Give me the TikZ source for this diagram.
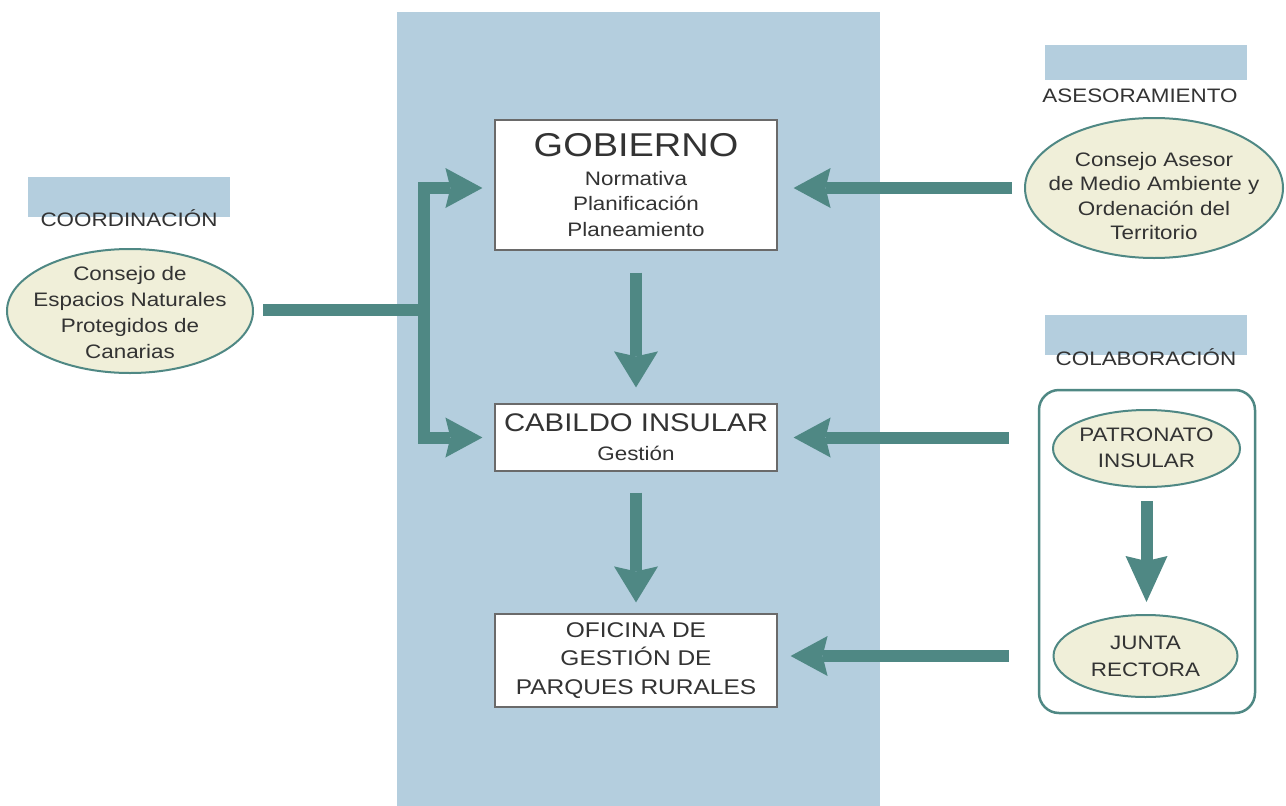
\documentclass[tikz,border=0pt]{standalone}
\usepackage{fontspec}
\setmainfont{Liberation Sans}[FakeStretch=1.15]
\usetikzlibrary{arrows.meta,shapes.geometric}
\definecolor{panelblue}{HTML}{B4CEDE}
\definecolor{tealc}{HTML}{4F8884}
\definecolor{cream}{HTML}{F0EFD9}
\definecolor{txt}{HTML}{333333}
\definecolor{boxline}{HTML}{6A6A6A}
\tikzset{
  panel/.style={fill=panelblue, inner sep=0pt},
  box/.style={draw=boxline, line width=1.2pt, fill=white, inner sep=0pt, align=center, text=txt,
    font=\fontsize{19.5}{25.3}\selectfont},
  ell/.style={ellipse, draw=tealc, line width=2pt, fill=cream, inner sep=0pt},
  elltext/.style={align=center, text=txt, inner sep=0pt, font=\fontsize{19.5}{26}\selectfont},
  tag/.style={fill=panelblue, inner sep=0pt},
  tagtext/.style={text=txt, inner sep=0pt, anchor=base, font=\fontsize{19.5}{23}\selectfont},
  group/.style={draw=tealc, line width=2.5pt, rounded corners=20pt, inner sep=0pt},
  conn/.style={draw=tealc, line width=12pt},
  arr/.style={conn, -{Stealth[length=37pt,width=40pt,inset=5pt,line width=0pt]}},
  arrwide/.style={conn, -{Stealth[length=36pt,width=44pt,inset=5pt,line width=0pt]}},
  arrlong/.style={conn, -{Stealth[length=46pt,width=42pt,inset=5pt,line width=0pt]}},
}
\begin{document}
\begin{tikzpicture}[x=1pt,y=-1pt]
\useasboundingbox (0,0) rectangle (1286,806);
\fill[white] (0,0) rectangle (1286,806);
% central panel
\node[panel, minimum width=483pt, minimum height=794pt] (panel) at (638.5,409) {};

% central boxes
\node[box, minimum width=282pt, minimum height=130pt] (gob) at (636,185)
  {{\fontsize{33}{36}\selectfont GOBIERNO}\\[3.7pt]Normativa\\Planificación\\Planeamiento};
\node[box, minimum width=282pt, minimum height=67pt] (cab) at (636,437.5)
  {{\fontsize{25.5}{28}\selectfont CABILDO INSULAR}\\[3.4pt]Gestión};
\node[box, minimum width=282pt, minimum height=93pt, font=\fontsize{21.3}{28.5}\selectfont] (ofi) at (636,660.5)
  {OFICINA DE\\GESTIÓN DE\\PARQUES RURALES};

% left: coordination
\node[tag, minimum width=202pt, minimum height=40pt] (coordbar) at (129,197) {};
\node[tagtext] (coord) at (129,226.7) {COORDINACIÓN};
\node[ell, minimum width=246pt, minimum height=124pt] (ces) at (130,311) {};
\node[elltext] (cestxt) at (130,312.4) {Consejo de\\Espacios Naturales\\Protegidos de\\Canarias};

% right top: advice
\node[tag, minimum width=202pt, minimum height=35pt] (asesbar) at (1146,62.5) {};
\node[tagtext] (ases) at (1140,102) {ASESORAMIENTO};
\node[ell, minimum width=258pt, minimum height=140pt] (cam) at (1154,188) {};
\node[elltext, font=\fontsize{19.5}{24.4}\selectfont] (camtxt) at (1154,196)
  {Consejo Asesor\\de Medio Ambiente y\\Ordenación del\\Territorio};

% right bottom: collaboration
\node[tag, minimum width=202pt, minimum height=40pt] (colbar) at (1146,335) {};
\node[tagtext] (colb) at (1146,365) {COLABORACIÓN};
\node[group, minimum width=216pt, minimum height=323pt] (colab) at (1147,551.5) {};
\node[ell, minimum width=187pt, minimum height=77pt] (pat) at (1146.5,448.5) {};
\node[elltext, font=\fontsize{19.5}{26.5}\selectfont] (pattxt) at (1146.5,447.7) {PATRONATO\\INSULAR};
\node[ell, minimum width=184pt, minimum height=82pt] (jun) at (1145.5,656) {};
\node[elltext, font=\fontsize{19.5}{27}\selectfont] (juntxt) at (1145.5,656.4) {JUNTA\\RECTORA};

% connectors
\coordinate (jn) at (424,310);
\draw[conn, shorten <=9pt] (ces.east |- jn) -- (jn);
\draw[arr, shorten >=12pt] (jn) |- ([yshift=-3pt]gob.west);
\draw[arr, shorten >=12pt] (jn) |- (cab.west);
\draw[arrwide, shorten <=22pt, shorten >=16pt] (gob.south) -- (cab.north);
\draw[arrwide, shorten <=21pt, shorten >=11pt] (cab.south) -- (ofi.north);
\draw[arr, shorten <=12pt, shorten >=16pt] (cam.west) -- (cam.west -| gob.east);
\draw[arr, shorten <=29pt, shorten >=16pt] (cab.east -| colab.west) -- (cab.east);
\draw[arr, shorten <=29pt, shorten >=13pt] (jun.west -| colab.west) -- (jun.west -| ofi.east);
\draw[arrlong, shorten <=13pt, shorten >=12pt] (pat.south) -- (pat.south |- jun.north);
\end{tikzpicture}
\end{document}
